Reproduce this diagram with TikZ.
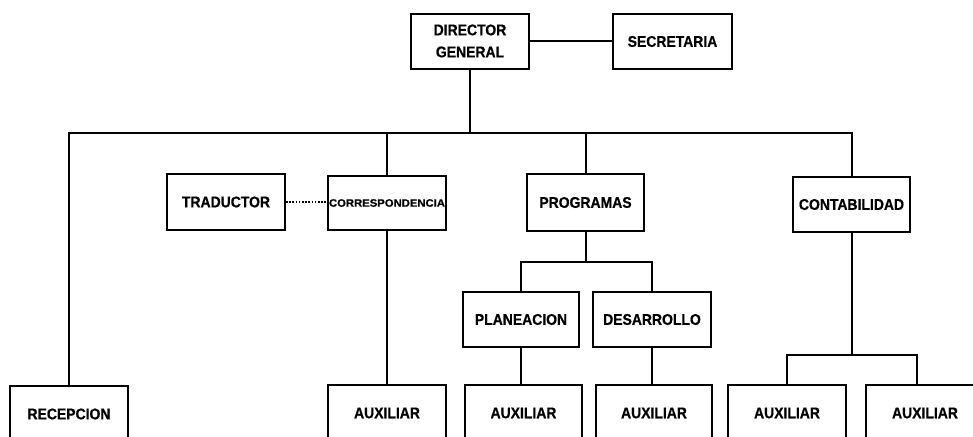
\documentclass[tikz,border=0pt]{standalone}
\usepackage{fontspec}
\setmainfont{Liberation Sans}
\newfontfamily\lab[FakeStretch=0.9,FakeBold=0.6]{Liberation Sans Bold}
\usepackage{graphicx}
\begin{document}
\begin{tikzpicture}[x=1pt,y=-1pt,
  box/.style={draw,line width=2pt,rectangle,inner sep=0pt,minimum height=55pt,align=center,
    font=\lab\fontsize{15.5}{24}\selectfont},
  link/.style={line width=2pt},
  dotlink/.style={line width=2pt,dash pattern=on 1.6pt off 1.6pt}]
\useasboundingbox (0,0) rectangle (973,436);
\begin{scope}
\clip (0,0) rectangle (973,436);
\node[box,minimum width=118pt] (dg) at (470,41.5) {\raisebox{-3pt}{\begin{tabular}{@{}c@{}}DIRECTOR\\[-2pt]GENERAL\end{tabular}}};
\node[box,minimum width=119pt] (sec) at (672.5,41.5) {SECRETARIA};
\node[box,minimum width=118pt,minimum height=56pt] (trad) at (226,202) {TRADUCTOR};
\node[box,minimum width=118pt,minimum height=54pt] (corr) at (387,203) {\resizebox{116pt}{7.5pt}{CORRESPONDENCIA}};
\node[box,minimum width=117pt,minimum height=57pt] (prog) at (585.5,202.5) {PROGRAMAS};
\node[box,minimum width=117pt] (cont) at (851.5,204.5) {CONTABILIDAD};
\node[box,minimum width=116pt] (plan) at (521,319.5) {PLANEACION};
\node[box,minimum width=118pt] (des) at (652,319.5) {DESARROLLO};
\node[box,minimum width=118pt,minimum height=56pt] (rec) at (69,414) {RECEPCION};
\node[box,minimum width=118pt,minimum height=56pt] (aux1) at (387,413) {AUXILIAR};
\node[box,minimum width=117pt,minimum height=56pt] (aux2) at (523.5,413) {AUXILIAR};
\node[box,minimum width=116pt,minimum height=56pt] (aux3) at (654,413) {AUXILIAR};
\node[box,minimum width=118pt,minimum height=56pt] (aux4) at (787,413) {AUXILIAR};
\node[box,minimum width=118pt,minimum height=56pt] (aux5) at (925,413) {AUXILIAR};
\coordinate (bus) at (0,133);
\coordinate (pbar) at (0,262);
\coordinate (cbar) at (0,355);
\coordinate (c5) at (917,355);
\draw[link] (dg.east) -- (sec.west);
\draw[link] (dg.south) -- (dg.south |- bus);
\draw[link] (rec.north) -- (rec.north |- bus) -- (cont.north |- bus) -- (cont.north);
\draw[link] (corr.north) -- (corr.north |- bus);
\draw[link] (prog.north) -- (prog.north |- bus);
\draw[dotlink] (trad.east) -- (trad.east -| corr.west);
\draw[link] (corr.south) -- (corr.south |- aux1.north);
\draw[link] (prog.south) -- (prog.south |- pbar);
\draw[link] (plan.north) -- (plan.north |- pbar) -- (des.north |- pbar) -- (des.north);
\draw[link] (plan.south) -- (plan.south |- aux2.north);
\draw[link] (des.south) -- (des.south |- aux3.north);
\draw[link] (cont.south) -- (cont.south |- cbar);
\draw[link] (aux4.north) -- (aux4.north |- cbar) -- (c5) -- (c5 |- aux5.north);
\end{scope}
\end{tikzpicture}
\end{document}
